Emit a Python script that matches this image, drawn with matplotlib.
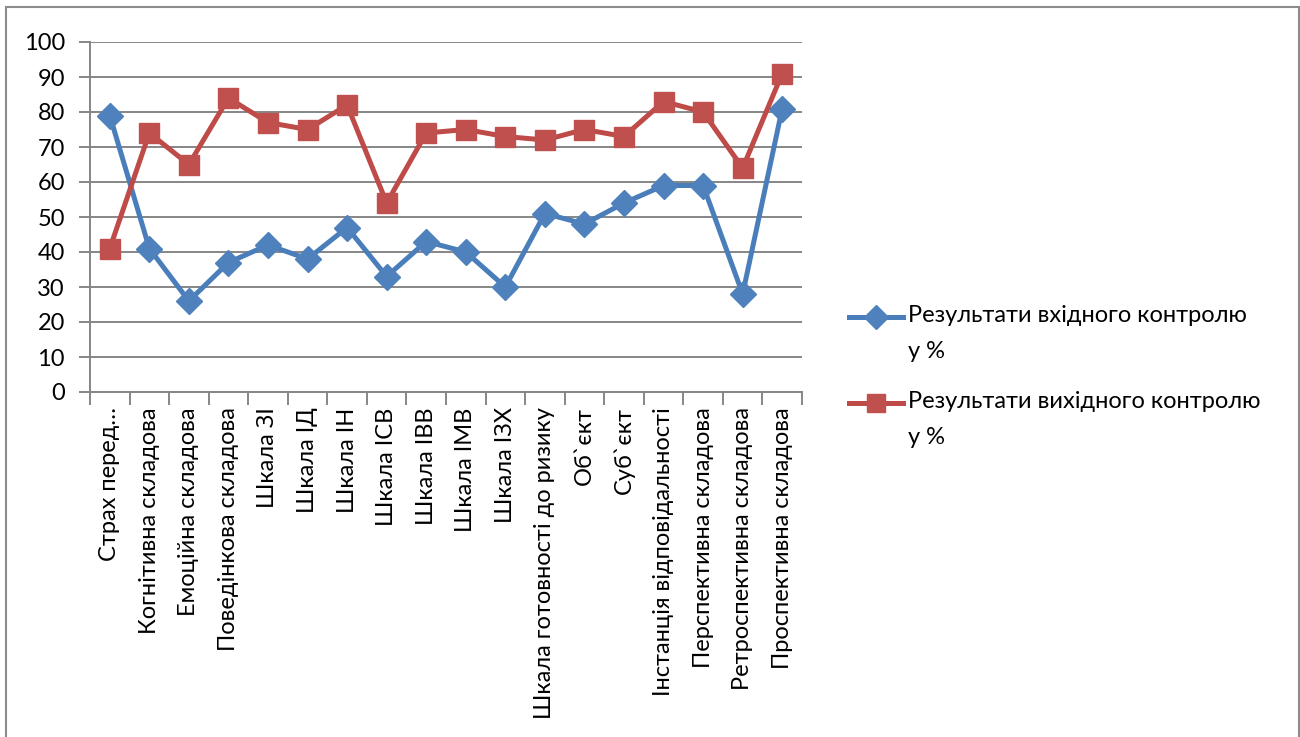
import matplotlib.pyplot as plt
from matplotlib.lines import Line2D
from matplotlib.patches import Rectangle

categories = [
    'Страх перед…', 'Когнітивна складова', 'Емоційна складова',
    'Поведінкова складова', 'Шкала ЗІ', 'Шкала ІД', 'Шкала ІН', 'Шкала ІСВ',
    'Шкала ІВВ', 'Шкала ІМВ', 'Шкала ІЗХ', 'Шкала готовності до ризику',
    'Об`єкт', 'Суб`єкт', 'Інстанція відповідальності', 'Перспективна складова',
    'Ретроспективна складова', 'Проспективна складова',
]
entry = [79, 41, 26, 37, 42, 38, 47, 33, 43, 40, 30, 51, 48, 54, 59, 59, 28, 81]
exit_ = [41, 74, 65, 84, 77, 75, 82, 54, 74, 75, 73, 72, 75, 73, 83, 80, 64, 91]
series_names = ['Результати вхідного контролю\nу %',
                'Результати вихідного контролю\nу %']

plt.rcParams['font.family'] = ['Lato', 'DejaVu Sans']
fs = 17

W, H = 1300, 737
fig = plt.figure(figsize=(W / 100, H / 100), dpi=100)

# outer chart frame
fig.patches.append(Rectangle((6 / W, -0.01), (1293 / W), 1 - 7 / H + 0.01,
                             transform=fig.transFigure, fill=False,
                             edgecolor='#8c8c8c', linewidth=1.5))

ax = fig.add_axes([90 / W, (H - 392) / H, (802 - 90) / W, 350 / H])

blue_line, blue_face = '#4A7EBB', '#4F81BD'
red_line, red_face = '#BE4B48', '#C0504D'

x = range(len(categories))
ax.plot(x, entry, color=blue_line, lw=3.6, marker='D', ms=13,
        mfc=blue_face, mec=blue_face, zorder=3)
ax.plot(x, exit_, color=red_line, lw=3.6, marker='s', ms=14.5,
        mfc=red_face, mec=red_face, zorder=4)

ax.set_xlim(-0.5, len(categories) - 0.5)
ax.set_ylim(0, 100)
ax.set_yticks(range(0, 101, 10))
ax.grid(axis='y', color='#868686', lw=1.4)
ax.set_axisbelow(True)

for side in ['top', 'right']:
    ax.spines[side].set_visible(False)
ax.spines['left'].set_color('#868686')
ax.spines['bottom'].set_color('#868686')
ax.spines['left'].set_linewidth(1.4)
ax.spines['bottom'].set_linewidth(1.4)

ax.set_xticks([i - 0.5 for i in range(len(categories) + 1)], minor=False)
ax.set_xticklabels([])
ax.set_xticks(list(x), minor=True)
ax.set_xticklabels(categories, minor=True, rotation=90, fontsize=fs,
                   va='top', ha='center')
ax.tick_params(axis='x', which='major', length=9, color='#868686', width=1.4)
ax.tick_params(axis='x', which='minor', length=0, pad=11)
ax.tick_params(axis='y', length=8, color='#868686', width=1.4,
               labelsize=fs, pad=10)

# legend, laid out by hand so the marker sits on the first line of text
for yp, col, face, mk, ms, name in [
        (317, blue_line, blue_face, 'D', 12, series_names[0]),
        (403, red_line, red_face, 's', 13.5, series_names[1])]:
    y = 1 - yp / H
    fig.add_artist(Line2D([849 / W, 903 / W], [y, y], color=col, lw=3.6,
                          transform=fig.transFigure))
    fig.add_artist(Line2D([876 / W], [y], marker=mk, ms=ms, mfc=face,
                          mec=face, transform=fig.transFigure))
    fig.text(908 / W, y + 12 / H, name, fontsize=fs, va='top', ha='left',
             linespacing=1.9)

fig.savefig('out.png', dpi=100)
